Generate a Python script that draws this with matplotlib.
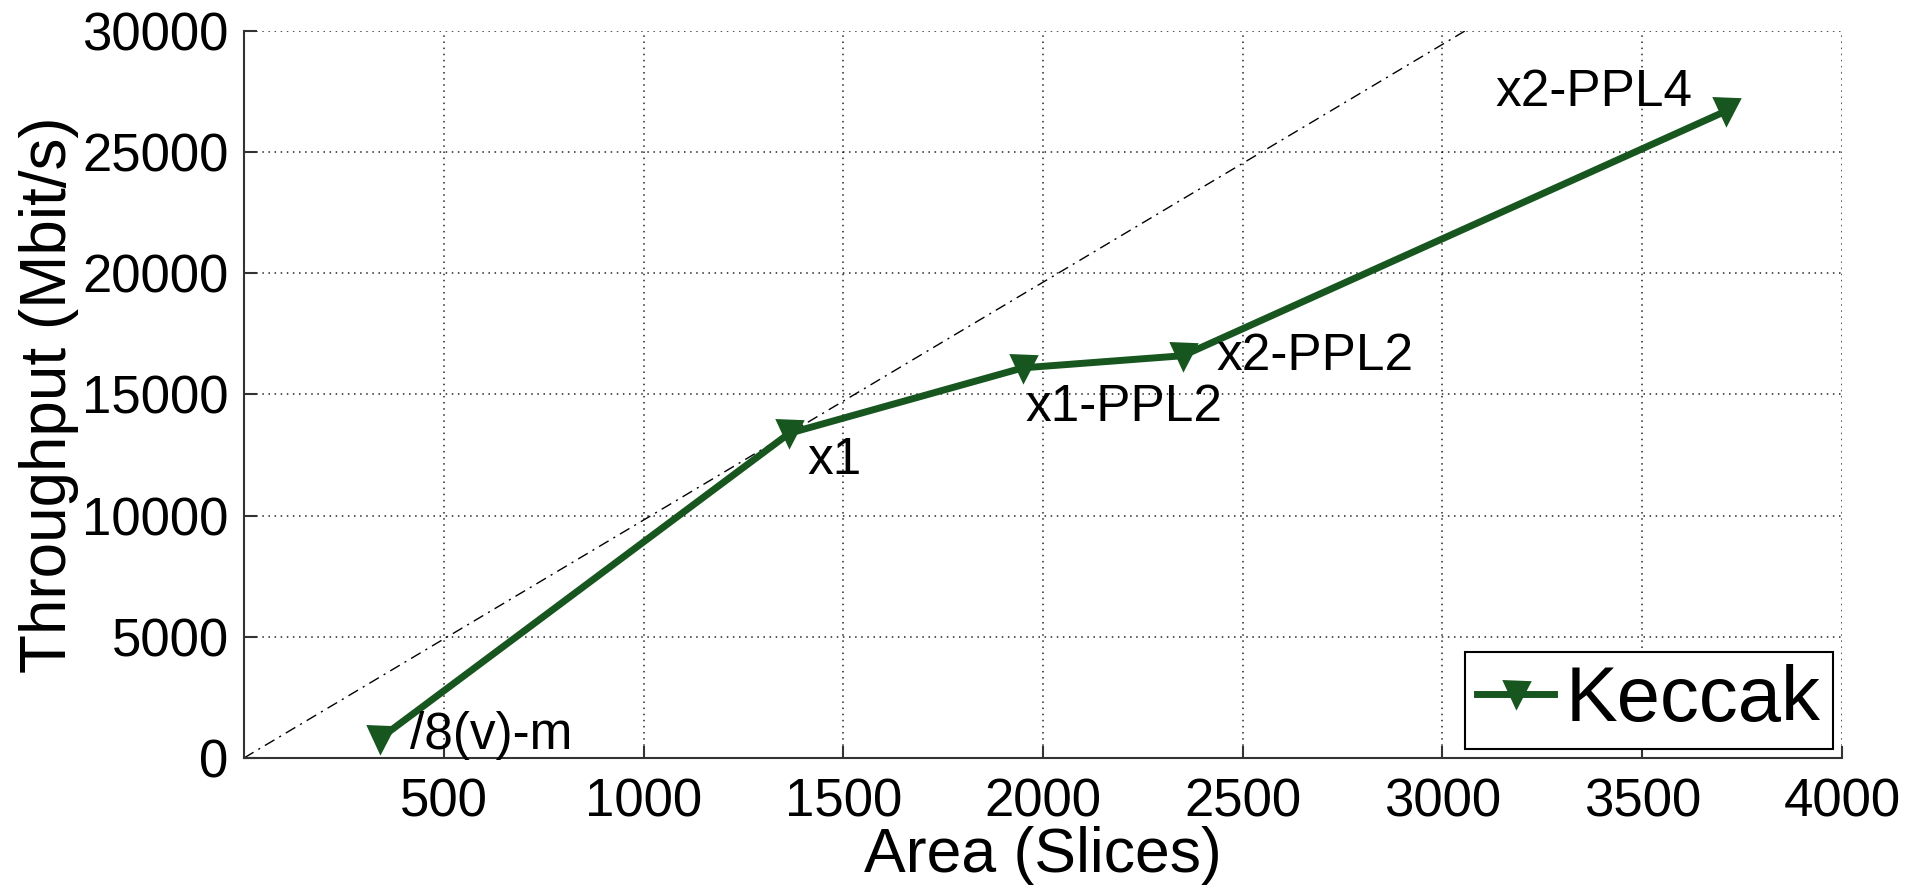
import matplotlib
matplotlib.use('Agg')
import matplotlib.pyplot as plt

plt.rcParams['font.family'] = ['Liberation Sans', 'DejaVu Sans']

# area (slices) and throughput (Mbit/s) of each Keccak design
area = [340, 1365, 1950, 2350, 3710]
throughput = [800, 13400, 16100, 16600, 26700]
names = ['/8(v)-m', 'x1', 'x1-PPL2', 'x2-PPL2', 'x2-PPL4']

x_ticks = [500, 1000, 1500, 2000, 2500, 3000, 3500, 4000]
y_ticks = [0, 5000, 10000, 15000, 20000, 25000, 30000]

green = '#17561f'

fig = plt.figure(figsize=(19.32, 8.89), dpi=100)
ax = fig.add_axes([0.1263, 0.1474, 0.8271, 0.8177])

# reference line through origin and the x1 design
ax.axline((0, 0), (area[1], throughput[1]), color='black', lw=1.0,
          linestyle=(0, (8, 4, 1.5, 4)), zorder=2)

ax.plot(area, throughput, color=green, lw=5, marker='v', markersize=18,
        markerfacecolor=green, markeredgecolor=green, mew=2, label='Keccak',
        zorder=3)

# label placement (pixel offsets from each point)
offsets = [(30, -10, 'left'), (18, -41, 'left'), (2, -53, 'left'),
           (34, -14, 'left'), (-34, 5, 'right')]
for x, y, name, (dx, dy, ha) in zip(area, throughput, names, offsets):
    ax.annotate(name, (x, y), xytext=(dx, dy), textcoords='offset pixels',
                fontsize=37, ha=ha, va='baseline', zorder=4)

ax.set_xlim(0, 4000)
ax.set_ylim(0, 30000)
ax.set_xticks(x_ticks)
ax.set_yticks(y_ticks)
ax.grid(True, color='black', lw=1.1, linestyle=(0, (1, 3)), alpha=0.85)
ax.set_axisbelow(True)

for side in ['top', 'right']:
    ax.spines[side].set_visible(False)
for side in ['left', 'bottom']:
    ax.spines[side].set_color('#333333')
    ax.spines[side].set_linewidth(1.5)

ax.tick_params(axis='both', direction='in', length=9, width=1.5,
               color='#333333', labelsize=38)
ax.tick_params(axis='x', pad=14)
ax.tick_params(axis='y', pad=11)

ax.set_xlabel('Area (Slices)', fontsize=45, labelpad=-1)
ax.set_ylabel('Throughput (Mbit/s)', fontsize=46, labelpad=2)

leg = ax.legend(loc='lower right', fontsize=56, fancybox=False,
                framealpha=1, edgecolor='black', borderpad=0.15,
                borderaxespad=0.12, handlelength=1.0, handletextpad=0.15)
leg.get_frame().set_linewidth(1.5)

fig.savefig('out.png', dpi=100)
